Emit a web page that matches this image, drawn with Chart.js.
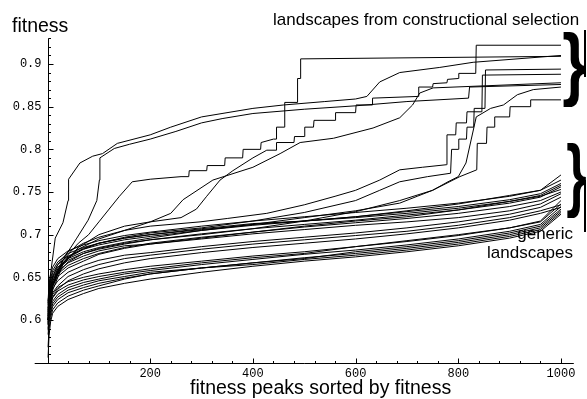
<!DOCTYPE html>
<html>
<head>
<meta charset="utf-8">
<script src="https://cdn.jsdelivr.net/npm/chart.js@4.4.0/dist/chart.umd.min.js"></script>
<style>
  html, body { margin: 0; padding: 0; background: #fff; }
  #wrap { width: 587px; height: 399px; }
</style>
</head>
<body>
<div id="wrap"><canvas id="grafico" width="587" height="399"></canvas></div>
<script>
// axis ranges and tick labels
const xRange = [-25, 1025];
const yRange = [0.55, 0.93];
const xTickLabels = [200, 400, 600, 800, 1000];
const yTickLabels = ["0.6", "0.65", "0.7", "0.75", "0.8", "0.85", "0.9"];

// generic landscapes: fitness of peaks at these ranks
const genericRanks = [1, 3, 6, 10, 20, 40, 70, 100, 150, 200, 300, 400, 500, 600, 700, 800, 900, 960, 1000];
const generic01 = [.622, .642, .654, .662, .672, .681, .688, .693, .699, .703, .710, .716, .721, .726, .731, .737, .745, .752, .770];
const generic02 = [.618, .637, .649, .658, .668, .678, .685, .690, .696, .700, .707, .713, .716, .721, .728, .736, .746, .752, .764];
const generic03 = [.612, .633, .646, .655, .665, .675, .683, .688, .694, .698, .705, .711, .716, .721, .727, .733, .741, .748, .760];
const generic04 = [.614, .631, .643, .652, .662, .672, .680, .685, .691, .696, .705, .712, .716, .720, .725, .731, .739, .746, .758];
const generic05 = [.607, .627, .640, .649, .660, .670, .678, .683, .689, .694, .701, .707, .712, .717, .723, .729, .737, .744, .756];
const generic06 = [.609, .625, .637, .646, .657, .667, .675, .681, .687, .689, .696, .703, .710, .716, .721, .729, .739, .745, .753];
const generic07 = [.602, .621, .634, .643, .654, .664, .672, .678, .685, .690, .697, .703, .709, .714, .719, .725, .733, .740, .750];
const generic08 = [.604, .619, .631, .640, .651, .661, .669, .677, .684, .689, .695, .701, .706, .711, .715, .720, .728, .736, .748];
const generic09 = [.598, .615, .627, .637, .646, .656, .664, .670, .676, .679, .686, .692, .697, .702, .708, .715, .724, .732, .744];
const generic10 = [.596, .612, .624, .632, .640, .651, .659, .665, .672, .676, .683, .689, .694, .699, .704, .711, .720, .728, .735];
const generic11 = [.600, .612, .622, .630, .638, .645, .650, .654, .659, .663, .669, .675, .680, .686, .692, .699, .708, .716, .740];
const generic12 = [.595, .608, .618, .626, .634, .641, .647, .651, .656, .660, .667, .673, .678, .686, .693, .700, .708, .715, .736];
const generic13 = [.590, .604, .614, .622, .630, .638, .644, .648, .654, .658, .665, .671, .677, .682, .688, .695, .704, .712, .733];
const generic14 = [.588, .600, .610, .619, .627, .635, .641, .646, .651, .656, .661, .667, .672, .680, .686, .693, .702, .710, .730];
const generic15 = [.583, .597, .607, .616, .624, .632, .638, .643, .649, .654, .661, .667, .673, .678, .684, .691, .700, .708, .728];
const generic16 = [.568, .590, .603, .612, .620, .628, .635, .640, .648, .654, .661, .665, .671, .676, .682, .689, .698, .706, .726];
const generic17 = [.556, .582, .598, .608, .616, .624, .631, .637, .643, .648, .656, .663, .669, .674, .680, .687, .696, .704, .724];
const generic18 = [.594, .607, .618, .627, .636, .646, .654, .660, .667, .672, .679, .685, .690, .695, .701, .708, .717, .725, .732];
const genericSeries = [generic01, generic02, generic03, generic04, generic05, generic06, generic07, generic08, generic09,
  generic10, generic11, generic12, generic13, generic14, generic15, generic16, generic17, generic18];

// landscapes from constructional selection: rank / fitness pairs (repeated ranks are the jumps)
const selA_rank = [1, 5, 15, 30, 40, 41, 63, 88, 107, 136, 200, 240, 300, 400, 460, 540, 600, 622, 647, 686, 764, 829, 1000];
const selA_fit  = [.62, .65, .696, .714, .74, .765, .784, .792, .795, .807, .817, .826, .838, .848, .852, .856, .859, .862, .879, .890, .896, .902, .910];

const selB_rank = [1, 10, 25, 40, 57, 79, 96, 101, 102, 130, 160, 200, 250, 300, 340, 400, 500, 600, 700, 820, 822, 1000];
const selB_fit  = [.605, .64, .665, .68, .696, .717, .74, .764, .79, .801, .806, .812, .821, .831, .836, .842, .847, .851, .856, .860, .873, .876];

const selC_rank = [1, 10, 30, 60, 80, 100, 120, 140, 165, 200, 260, 275, 276, 310, 311, 345, 346, 380, 381, 415, 416, 440, 445, 446, 461, 462, 486, 487, 492, 493, 1000];
const selC_fit  = [.60, .64, .67, .69, .70, .715, .73, .745, .762, .765, .768, .768, .775, .775, .781, .781, .79, .79, .80, .80, .808, .812, .812, .826, .826, .855, .855, .883, .883, .906, .909];

const selD_rank = [1, 10, 30, 60, 100, 150, 200, 260, 290, 310, 336, 361, 400, 427, 445, 446, 480, 481, 500, 501, 518, 519, 560, 561, 600, 601, 632, 633, 722, 723, 750, 751, 778, 779, 800, 801, 834, 835, 1000];
const selD_fit  = [.60, .635, .665, .685, .70, .71, .715, .72, .73, .745, .764, .775, .79, .799, .799, .808, .808, .815, .815, .826, .826, .834, .834, .843, .843, .852, .852, .860, .862, .873, .873, .877, .878, .882, .883, .889, .889, .922, .922];

const selE_rank = [1, 10, 30, 60, 100, 150, 200, 240, 264, 322, 400, 453, 492, 557, 634, 686, 711, 725, 751, 1000];
const selE_fit  = [.60, .64, .667, .683, .695, .705, .715, .725, .741, .764, .779, .795, .808, .813, .825, .837, .852, .866, .872, .878];

const selF_rank = [1, 5, 10, 20, 40, 70, 100, 150, 200, 297, 350, 427, 500, 560, 600, 647, 686, 730, 777, 778, 795, 796, 816, 817, 846, 847, 1000];
const selF_fit  = [.61, .635, .65, .665, .68, .69, .697, .705, .71, .715, .719, .725, .735, .745, .752, .764, .776, .779, .782, .817, .817, .831, .831, .844, .844, .887, .888];

const selG_rank = [1, 5, 10, 20, 40, 70, 100, 150, 200, 300, 400, 500, 600, 647, 686, 740, 785, 787, 800, 801, 816, 817, 830, 831, 852, 853, 1000];
const selG_fit  = [.60, .628, .642, .658, .673, .683, .69, .697, .702, .708, .716, .726, .740, .752, .762, .768, .772, .80, .80, .812, .812, .826, .826, .848, .848, .893, .894];

const selH_rank = [1, 5, 10, 20, 40, 70, 100, 150, 200, 300, 400, 500, 600, 686, 720, 750, 780, 800, 815, 825, 835, 863, 888, 915, 946, 1000];
const selH_fit  = [.605, .63, .645, .66, .674, .684, .69, .696, .70, .706, .712, .72, .728, .737, .745, .752, .762, .768, .784, .811, .838, .848, .852, .864, .870, .873];

const selI_rank = [1, 5, 10, 20, 40, 70, 100, 150, 200, 300, 400, 500, 600, 686, 750, 803, 836, 837, 855, 856, 870, 871, 900, 901, 940, 941, 1000];
const selI_fit  = [.60, .625, .64, .655, .668, .678, .684, .69, .694, .70, .707, .716, .727, .74, .752, .768, .776, .807, .807, .826, .826, .838, .838, .85, .85, .858, .858];

const selectionSeries = [
  [selA_rank, selA_fit], [selB_rank, selB_fit], [selC_rank, selC_fit], [selD_rank, selD_fit], [selE_rank, selE_fit],
  [selF_rank, selF_fit], [selG_rank, selG_fit], [selH_rank, selH_fit], [selI_rank, selI_fit]
];

document.addEventListener("DOMContentLoaded", () => {
  const ctx = document.getElementById("grafico").getContext("2d");

  const datasets = [];
  genericSeries.forEach((serie, i) => {
    datasets.push({
      label: "generic " + (i + 1),
      data: genericRanks.map((r, k) => ({ x: r, y: serie[k] }))
    });
  });
  selectionSeries.forEach(([ranks, fits], i) => {
    datasets.push({
      label: "constructional " + (i + 1),
      data: ranks.map((r, k) => ({ x: r, y: fits[k] }))
    });
  });

  // Mathematica-like axes crossing at (0, 0.55), ticks pointing inward
  const eixos = {
    id: "eixos",
    afterDraw(chart) {
      const { ctx, chartArea } = chart;
      const xs = chart.scales.x, ys = chart.scales.y;
      const x0 = Math.round(xs.getPixelForValue(0)) + 0.5;
      const yb = Math.round(ys.getPixelForValue(yRange[0])) + 0.5;
      const yt = ys.getPixelForValue(yRange[1]);

      ctx.save();
      ctx.strokeStyle = "#000";
      ctx.lineWidth = 1;
      ctx.beginPath();
      ctx.moveTo(chartArea.left, yb);
      ctx.lineTo(chartArea.right, yb);
      ctx.moveTo(x0, yb);
      ctx.lineTo(x0, yt);

      for (let v = 40; v <= 1000; v += 40) {
        const px = Math.round(xs.getPixelForValue(v)) + 0.5;
        const len = v % 200 === 0 ? 5 : 2.5;
        ctx.moveTo(px, yb);
        ctx.lineTo(px, yb - len);
      }
      for (let k = 56; k <= 93; k++) {
        const py = Math.round(ys.getPixelForValue(k / 100)) + 0.5;
        const len = k % 5 === 0 ? 5 : 2.5;
        ctx.moveTo(x0, py);
        ctx.lineTo(x0 + len, py);
      }
      ctx.stroke();

      ctx.fillStyle = "#000";
      ctx.font = "12px 'Liberation Mono', monospace";
      ctx.textAlign = "center";
      ctx.textBaseline = "middle";
      xTickLabels.forEach(v => ctx.fillText(String(v), xs.getPixelForValue(v), yb + 10));
      ctx.textAlign = "right";
      yTickLabels.forEach(t => ctx.fillText(t, x0 - 7, ys.getPixelForValue(parseFloat(t))));

      ctx.font = "19.5px 'Liberation Sans', Arial, sans-serif";
      ctx.textBaseline = "alphabetic";
      ctx.textAlign = "left";
      ctx.fillText("fitness", 12, 32);
      ctx.fillText("fitness peaks sorted by fitness", 190, 394);

      ctx.font = "17px 'Liberation Sans', Arial, sans-serif";
      ctx.fillText("landscapes from constructional selection", 273, 25);
      ctx.textAlign = "right";
      ctx.fillText("generic", 573, 239);
      ctx.fillText("landscapes", 573, 258);

      // braces
      desenharChave(ctx, 563, 32, 586, 107);
      desenharChave(ctx, 567, 143, 586, 218);
      ctx.lineWidth = 2;
      ctx.beginPath();
      ctx.moveTo(585, 30); ctx.lineTo(585, 77);
      ctx.moveTo(585, 180); ctx.lineTo(585, 232);
      ctx.stroke();
      ctx.restore();
    }
  };

  function desenharChave(ctx, x1, y1, x2, y2) {
    ctx.save();
    ctx.font = "bold 80px 'Liberation Sans', Arial, sans-serif";
    ctx.textAlign = "left";
    ctx.textBaseline = "alphabetic";
    const m = ctx.measureText("}");
    const w = m.actualBoundingBoxLeft + m.actualBoundingBoxRight;
    const h = m.actualBoundingBoxAscent + m.actualBoundingBoxDescent;
    ctx.translate(x1, y1);
    ctx.scale((x2 - x1) / w, (y2 - y1) / h);
    ctx.fillText("}", m.actualBoundingBoxLeft, m.actualBoundingBoxAscent);
    ctx.restore();
  }

  new Chart(ctx, {
    type: "line",
    data: { datasets },
    options: {
      responsive: false,
      animation: false,
      layout: { padding: { left: 34.7, right: 13.2, top: 38.4, bottom: 36.3 } },
      elements: {
        line: { borderColor: "#000", borderWidth: 1, tension: 0, fill: false },
        point: { radius: 0, hoverRadius: 0 }
      },
      plugins: {
        legend: { display: false },
        tooltip: { enabled: false }
      },
      scales: {
        x: { type: "linear", min: xRange[0], max: xRange[1], display: false },
        y: { type: "linear", min: yRange[0], max: yRange[1], display: false }
      }
    },
    plugins: [eixos]
  });
});
</script>
</body>
</html>
